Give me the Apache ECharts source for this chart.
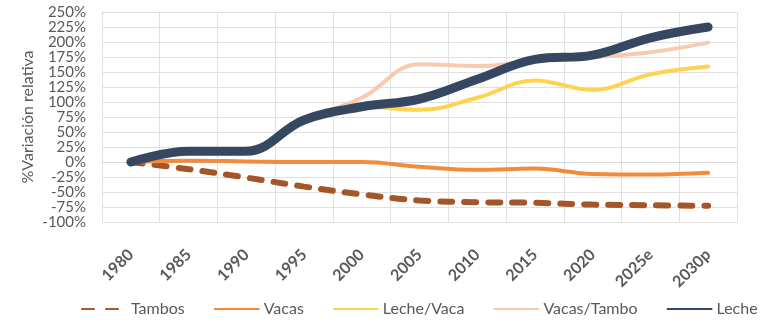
<!DOCTYPE html>
<html>
<head>
<meta charset="utf-8">
<script src="https://cdn.jsdelivr.net/npm/echarts@6/dist/echarts.min.js"></script>
<style>html,body{margin:0;padding:0;background:#fff}#c{width:763px;height:334px}</style>
</head>
<body>
<div id="c"></div>
<script>
const categories = ['1980','1985','1990','1995','2000','2005','2010','2015','2020','2025e','2030p'];
const tambos    = [0, -12, -26, -41, -54, -64, -67, -68, -71, -72, -73];
const vacas     = [0, 2, 1, 0, 0, -8, -13, -11, -20, -21, -18];
const lecheVaca = [0, 17, 18, 68, 92, 87, 107, 136, 120, 146, 159];
const vacasTambo= [0, 17, 22, 70, 107, 163, 160, 168, 175, 183, 199];
const leche     = [0, 18, 18, 70, 92, 105, 138, 171, 178, 207, 225];

const FONT = 'Lato, "Open Sans", sans-serif';
const TXT = '#595959';
const chart = echarts.init(document.getElementById('c'), null, {renderer:'canvas'});
function mk(name, data, color, width, dashed) {
  return {
    name, type:'line', data, smooth:0.4, symbol:'none', z: 2,
    lineStyle:{color, width, type: dashed ? [12, 12] : 'solid', cap:'round'},
    itemStyle:{color}
  };
}
chart.setOption({
  animation:false,
  backgroundColor:'#fff',
  grid:{left:102, right:26, top:12, bottom:112, containLabel:false},
  xAxis:{
    type:'category', data:categories, boundaryGap:true,
    axisLine:{show:true, lineStyle:{color:'#d9d9d9'}},
    axisTick:{show:false},
    splitLine:{show:true, interval:0, lineStyle:{color:'#e0e0e0'}},
    axisLabel:{interval:0, rotate:45, margin:30, color:TXT, fontFamily:FONT, fontWeight:'bold', fontSize:16}
  },
  yAxis:{
    type:'value', min:-100, max:250, interval:25,
    name:'%Variación relativa', nameLocation:'middle', nameGap:66, nameMoveOverlap:false,
    nameTextStyle:{color:TXT, fontFamily:FONT, fontSize:16},
    axisLine:{show:true, lineStyle:{color:'#e0e0e0'}},
    axisTick:{show:false},
    splitLine:{lineStyle:{color:'#e0e0e0'}},
    axisLabel:{formatter:'{value}%', color:TXT, fontFamily:FONT, fontSize:15, margin:16}
  },
  legend:{
    bottom:12, left:76, itemWidth:44, itemHeight:10, itemGap:29,
    itemStyle:{opacity:0},
    textStyle:{color:TXT, fontFamily:FONT, fontSize:16},
    data:['Tambos','Vacas','Leche/Vaca','Vacas/Tambo','Leche']
  },
  series:[
    mk('Tambos', tambos, '#A4562A', 6, true),
    mk('Vacas', vacas, '#F28C3C', 4, false),
    mk('Leche/Vaca', lecheVaca, '#FFD24F', 4, false),
    mk('Vacas/Tambo', vacasTambo, '#F8CBB0', 4, false),
    mk('Leche', leche, '#354761', 9, false)
  ]
});
</script>
</body>
</html>
